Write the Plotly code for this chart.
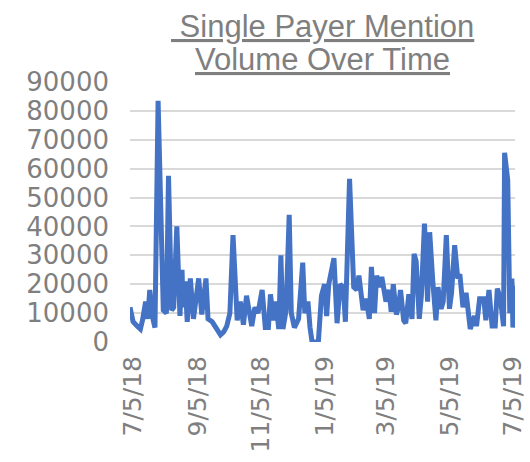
import pandas as pd
import plotly.graph_objects as go

# Days since 7/5/18 and mention volumes
day_offsets = [-3, 0, 4, 7, 9, 12, 14, 16, 19, 21, 24, 29, 32, 34, 37, 39, 42, 45, 47, 48,
               50, 52, 55, 58, 63, 66, 70, 72, 76, 80, 84, 87, 90, 93, 96, 100, 103, 106, 109, 114,
               117, 120, 124, 127, 130, 132, 135, 137, 140, 142, 144, 147, 150, 152, 155, 159, 163, 165, 168, 170,
               172, 178, 181, 184, 186, 188, 193, 196, 199, 202, 204, 208, 212, 215, 217, 221, 224, 227, 229, 232,
               234, 237, 239, 243, 246, 248, 250, 253, 255, 257, 260, 262, 265, 268, 270, 272, 275, 277, 280, 283,
               285, 288, 291, 293, 296, 298, 301, 304, 306, 309, 312, 314, 317, 320, 322, 324, 328, 330, 333, 337,
               339, 342, 345, 348, 350, 353, 356, 357, 360, 362, 364, 365, 367]
volumes = [12000, 7000, 5500, 4500, 7500, 14000, 8000, 18000, 8000, 5000, 83500, 11000, 10000, 57500, 11000, 12000, 40000, 9000, 25000, 12000,
           21000, 7000, 22000, 8000, 22000, 9500, 22000, 8000, 7000, 4500, 2500, 3500, 5500, 10000, 37000, 7500, 14000, 6000, 16000, 5500,
           12000, 10000, 18000, 5000, 5000, 16500, 7500, 14000, 4500, 30000, 4500, 11000, 44000, 10000, 5000, 8000, 27500, 10000, 14000, 5000,
           0, 0, 16000, 20000, 9000, 20000, 29000, 6500, 20000, 19000, 7000, 56500, 19000, 18000, 23000, 11000, 15000, 8000, 26000, 10000,
           23000, 19000, 22500, 14000, 18000, 10500, 20000, 9500, 12000, 18000, 7500, 6500, 16500, 8000, 30500, 28000, 8000, 16000, 41000, 14000,
           38000, 21000, 7500, 19000, 11500, 14000, 37000, 11500, 17000, 33500, 22000, 23500, 12000, 17000, 10000, 4500, 9000, 5500, 15000, 15000,
           7500, 18000, 5500, 5500, 18500, 15000, 5500, 65500, 56000, 10000, 22000, 5000, 19500]

tick_dates = ["2018-07-05", "2018-09-05", "2018-11-05", "2019-01-05", "2019-03-05", "2019-05-05", "2019-07-05"]
tick_labels = ["7/5/18", "9/5/18", "11/5/18", "1/5/19", "3/5/19", "5/5/19", "7/5/19"]
y_ticks = [0, 10000, 20000, 30000, 40000, 50000, 60000, 70000, 80000, 90000]

title_lines = [" Single Payer Mention", "Volume Over Time"]

start = pd.Timestamp("2018-07-05")
dates = start + pd.to_timedelta(day_offsets, unit="D")

GRAY = "#7f7f7f"

fig = go.Figure()
fig.add_trace(go.Scatter(
    x=dates, y=volumes, mode="lines",
    line=dict(color="#4472C4", width=5),
    hoverinfo="x+y",
))

# Title: two underlined lines, tighter line spacing than Plotly's default
for i, line in enumerate(title_lines):
    fig.add_annotation(
        text=f"<u>{line}</u>",
        x=0.5, xref="paper", xanchor="center",
        y=1, yref="paper", yanchor="bottom",
        yshift=3 + 33 * (len(title_lines) - 1 - i),
        showarrow=False, align="center",
        font=dict(family="Liberation Sans, Arial, sans-serif", size=31, color=GRAY),
    )

fig.update_layout(
    width=530, height=462,
    margin=dict(l=130, r=15, t=82, b=120, autoexpand=False),
    paper_bgcolor="white", plot_bgcolor="white",
    showlegend=False,
    xaxis=dict(
        type="date",
        range=["2018-07-02", "2019-07-07"],
        tickmode="array", tickvals=tick_dates, ticktext=tick_labels,
        tickangle=-90,
        tickfont=dict(family="DejaVu Sans, sans-serif", size=25, color=GRAY),
        showgrid=False, zeroline=False, showline=False, ticks="",
        ticklabelstandoff=8,
        automargin=False,
    ),
    yaxis=dict(
        range=[0, 90000],
        tickmode="array", tickvals=y_ticks, ticktext=[str(v) for v in y_ticks],
        tickfont=dict(family="DejaVu Sans, sans-serif", size=26, color=GRAY),
        showgrid=True, gridcolor="#d9d9d9", gridwidth=2,
        zeroline=False, showline=False, ticks="",
        ticklabelstandoff=20,
        automargin=False,
    ),
)

fig.write_html("out.html", config={"displayModeBar": False},
               post_script="document.body.style.margin='0';")
